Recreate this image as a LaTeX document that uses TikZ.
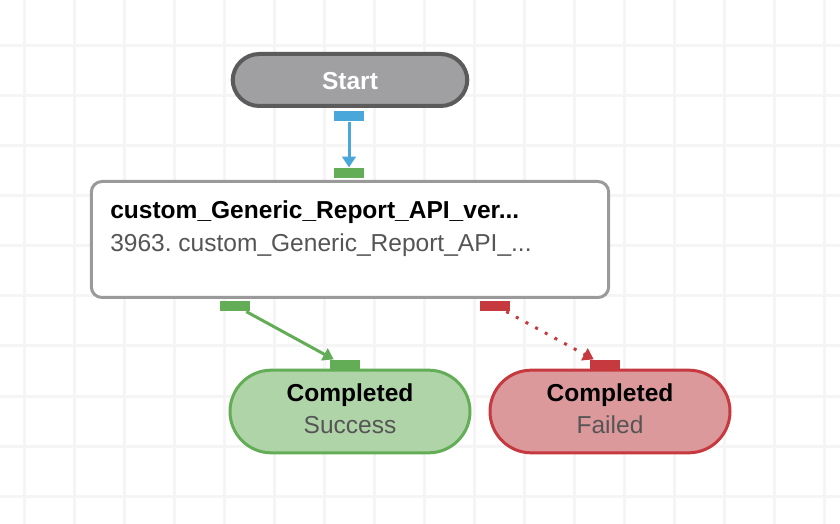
\documentclass[tikz,border=0pt]{standalone}
\usepackage{fontspec}
\setmainfont{Liberation Sans}
\usetikzlibrary{arrows.meta}

\definecolor{gridgray}{HTML}{F5F5F5}
\definecolor{startfill}{HTML}{A0A0A2}
\definecolor{startline}{HTML}{5B5B5B}
\definecolor{taskline}{HTML}{9A9A9A}
\definecolor{flowblue}{HTML}{49A7DA}
\definecolor{okgreen}{HTML}{63AD56}
\definecolor{okfill}{HTML}{AFD4A8}
\definecolor{errred}{HTML}{C5393F}
\definecolor{errfill}{HTML}{DC999C}
\definecolor{subgray}{HTML}{555555}

\begin{document}
\frenchspacing
\begin{tikzpicture}[x=0.75pt,y=-0.75pt,
    gridline/.style={draw=gridgray, line width=2.25pt},
    pill/.style={draw=#1, line width=2.25pt, rounded corners=31pt,
        minimum width=180pt, minimum height=62pt, inner sep=0pt},
    port/.style={fill=#1, minimum width=22.5pt, minimum height=8pt, inner sep=0pt},
    txt/.style={font=\fontsize{18.4}{22}\selectfont, inner sep=0pt},
    flow/.style={line width=2.25pt, -{Triangle[width=10pt,length=8pt]}}
]

\useasboundingbox (0,0) rectangle (840,524);
\fill[white] (0,0) rectangle (840,524);

% Grid
\foreach \x in {24,74,...,824}
    \draw[gridline] (\x,0) -- (\x,524);
\foreach \y in {46,96,...,496}
    \draw[gridline] (0,\y) -- (840,\y);

% Start
\node[pill=startline, fill=startfill, line width=3pt, minimum width=176pt, minimum height=39pt, rounded corners=20pt] (start) at (350,80) {};
\node[txt, font=\fontsize{18.4}{22}\selectfont\bfseries, text=white] (startlbl) at (350,81) {Start};

% Task
\node[draw=taskline, fill=white, line width=2.25pt, rounded corners=8pt,
    minimum width=388pt, minimum height=87pt, inner sep=0pt] (task) at (350,239.5) {};
\node[txt, font=\fontsize{18.4}{22}\selectfont\bfseries, anchor=west] (tasktitle) at (110,212) {custom\_Generic\_Report\_API\_ver...};
\node[txt, text=subgray, anchor=west] (tasksub) at (110,245) {3963. custom\_Generic\_Report\_API\_...};

% Completed nodes
\node[pill=okgreen, fill=okfill] (success) at (350,411.5) {};
\node[txt, font=\fontsize{18.4}{22}\selectfont\bfseries] (successtop) at (350,395) {Completed};
\node[txt, text=subgray] (successsub) at (350,425) {Success};

\node[pill=errred, fill=errfill] (failed) at (610,411.5) {};
\node[txt, font=\fontsize{18.4}{22}\selectfont\bfseries] (failedtop) at (610,395) {Completed};
\node[txt, text=subgray] (failedsub) at (610,425) {Failed};

% Ports
\node[port=flowblue] (startout) at (349,116) {};
\node[port=okgreen] (taskin) at (349,173) {};
\node[port=okgreen] (taskok) at (235,306) {};
\node[port=errred] (taskerr) at (495,306) {};
\node[port=okgreen] (successin) at (345,365) {};
\node[port=errred] (failedin) at (605,365) {};

% Connectors
\draw[flow, flowblue] (startout.south) -- (taskin.north);
\draw[flow, okgreen] ([xshift=-3pt]taskok.south east) -- ([xshift=3pt]successin.north west);
\draw[flow, errred, dash pattern=on 2.25pt off 6pt] ([xshift=-3pt]taskerr.south east) -- ([xshift=3pt]failedin.north west);

\end{tikzpicture}
\end{document}
